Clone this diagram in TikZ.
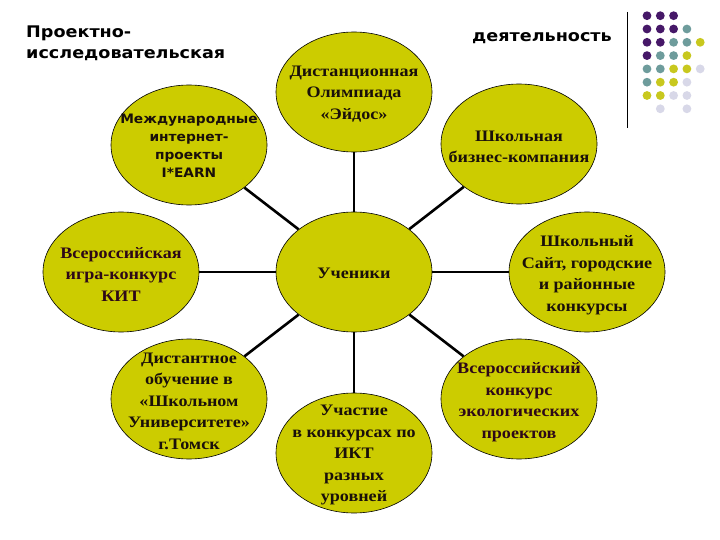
\documentclass[tikz,border=0pt]{standalone}
\usepackage{fontspec}
\setmainfont[FakeStretch=1.13]{Liberation Serif}
\newfontfamily\titlefont[FakeStretch=1.1]{DejaVu Sans}
\newfontfamily\smallsans[FakeStretch=1.06]{DejaVu Sans}
\usetikzlibrary{shapes.geometric}
\definecolor{ell}{RGB}{204,204,0}
\definecolor{txt}{RGB}{26,16,10}
\definecolor{mar}{RGB}{45,8,24}
\definecolor{dP}{RGB}{70,24,104}
\definecolor{dT}{RGB}{110,156,156}
\definecolor{dY}{RGB}{200,200,30}
\definecolor{dL}{RGB}{216,216,232}
\tikzset{
  oval/.style={ellipse, draw=black, line width=0.6pt, fill=ell, minimum width=156pt, minimum height=120pt, inner sep=0pt},
  lbl/.style={align=center, inner sep=0pt, text=txt, font=\fontsize{16}{21.5}\selectfont\bfseries},
  link/.style={line width=2.6pt, black},
  ttl/.style={font=\titlefont\fontsize{16}{22}\selectfont\bfseries, align=left, inner sep=0pt},
  dot/.style={circle, inner sep=0pt, minimum size=8.8pt}
}
\begin{document}
\begin{tikzpicture}[x=1pt,y=-1pt]
\useasboundingbox (0,0) rectangle (720,540);
\fill[white] (0,0) rectangle (720,540);
% title
\node[ttl, anchor=west] (t1) at (26,33) {Проектно-};
\node[ttl, anchor=west] (t2) at (26,55) {исследовательская};
\node[ttl] (t3) at (542,38) {деятельность};
% ellipses
\node[oval] (c) at (354,272) {};
\node[oval] (a1) at (189,145) {};
\node[oval] (a2) at (354,92) {};
\node[oval] (a3) at (519,144) {};
\node[oval] (a4) at (121,272) {};
\node[oval] (a5) at (587,272) {};
\node[oval] (a6) at (189,399) {};
\node[oval] (a7) at (354,453) {};
\node[oval] (a8) at (519,399) {};
\foreach \n in {a1,a2,a3,a4,a5,a6,a7,a8} \draw[link] (c) -- (\n);
% labels
\node[lbl] (lc) at (354,273) {Ученики};
\node[lbl, font=\smallsans\fontsize{13}{18}\selectfont\bfseries] (l1) at (189,146) {Международные\\интернет-\\проекты\\I*EARN};
\node[lbl] (l2) at (354,94) {Дистанционная\\Олимпиада\\«Эйдос»};
\node[lbl] (l3) at (519,147) {Школьная\\бизнес-компания};
\node[lbl, text=mar] (l4) at (121,274) {Всероссийская\\игра-конкурс\\КИТ};
\node[lbl] (l5) at (587,275) {Школьный\\Сайт, городские\\и районные\\конкурсы};
\node[lbl] (l6) at (189,401) {Дистантное\\обучение в\\«Школьном\\Университете»\\г.Томск};
\node[lbl] (l7) at (354,455) {Участие\\в конкурсах по\\ИКТ\\разных\\уровней};
\node[lbl, text=mar] (l8) at (519,402) {Всероссийский\\конкурс\\экологических\\проектов};
% decoration
\draw[line width=1pt] (627,12) -- (627,128);
\foreach \r/\k/\cc in {0/0/P,0/1/P,0/2/P,
  1/0/P,1/1/P,1/2/P,1/3/T,
  2/0/P,2/1/P,2/2/T,2/3/T,2/4/Y,
  3/0/P,3/1/T,3/2/T,3/3/Y,
  4/0/T,4/1/T,4/2/Y,4/3/Y,4/4/L,
  5/0/T,5/1/Y,5/2/Y,5/3/L,
  6/0/Y,6/1/Y,6/2/L,6/3/L,
  7/1/L,7/3/L}
  \node[dot, fill=d\cc] (d\r\k) at (647+13.3*\k, 15.7+13.3*\r) {};
\end{tikzpicture}
\end{document}
